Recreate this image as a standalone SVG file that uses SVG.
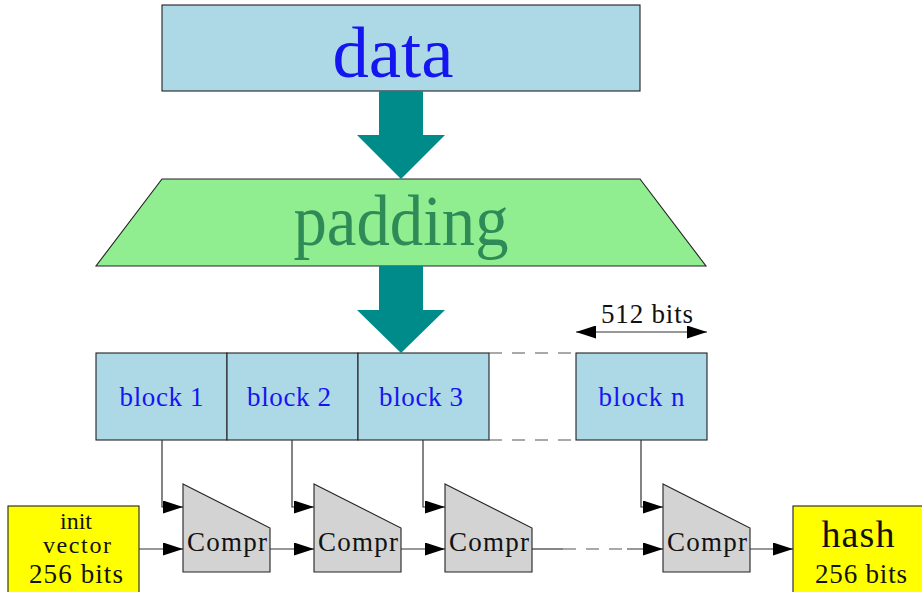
<svg xmlns="http://www.w3.org/2000/svg" width="922" height="592" viewBox="0 0 922 592">
  <style>
    text { font-family: "Liberation Serif", "DejaVu Serif", serif; text-anchor: middle; }
    .box { stroke: #222; stroke-width: 1.1; }
    .blue { fill: #add8e6; }
    .yellow { fill: #ffff00; }
    .compr { fill: #d3d3d3; stroke: #222; stroke-width: 1.1; }
    .big { font-size: 72px; }
    .lbl { fill: #1515f0; font-size: 27px; }
    .txt { fill: #111; font-size: 27px; }
    .sm { fill: #111; font-size: 24px; }
    .wire { fill: none; stroke: #333; stroke-width: 1.2; }
    .dash { fill: none; stroke: #555; stroke-width: 1.2; stroke-dasharray: 13 10; }
    .fat { fill: #008b8b; }
  </style>
  <defs>
    <marker id="tip" viewBox="0 0 20 13" refX="20" refY="6.5" markerWidth="20" markerHeight="13" markerUnits="userSpaceOnUse" orient="auto-start-reverse">
      <path d="M0,0 L20,6.5 L0,13 z" fill="#000"/>
    </marker>
  </defs>

  <!-- input message -->
  <g id="data">
    <rect class="box blue" x="162" y="5" width="478" height="86"/>
    <text class="big" x="393" y="77" fill="#1515f0" textLength="121" lengthAdjust="spacingAndGlyphs">data</text>
  </g>

  <g id="padding">
    <polygon class="box" points="162,179 640,179 706,266 96,266" fill="#90ee90"/>
    <text class="big" x="401" y="245" fill="#2e8b57" font-size="68px" textLength="215" lengthAdjust="spacingAndGlyphs">padding</text>
  </g>

  <!-- message blocks -->
  <g id="block1">
    <rect class="box blue" x="96" y="353" width="131" height="87"/>
    <text class="lbl" x="161.5" y="406" textLength="84">block 1</text>
  </g>
  <g id="block2">
    <rect class="box blue" x="227" y="353" width="131" height="87"/>
    <text class="lbl" x="289" y="406" textLength="84">block 2</text>
  </g>
  <g id="block3">
    <rect class="box blue" x="358" y="353" width="131" height="87"/>
    <text class="lbl" x="421" y="406" textLength="84">block 3</text>
  </g>
  <g id="blockn">
    <rect class="box blue" x="576" y="353" width="131" height="87"/>
    <text class="lbl" x="641.5" y="406" textLength="86">block n</text>
  </g>

  <!-- compression functions -->
  <g id="compr1">
    <polygon class="compr" points="183,484 270,528 270,572 183,572"/>
    <text class="txt" x="227" y="551" textLength="80">Compr</text>
  </g>
  <g id="compr2">
    <polygon class="compr" points="314,484 401,528 401,572 314,572"/>
    <text class="txt" x="358" y="551" textLength="80">Compr</text>
  </g>
  <g id="compr3">
    <polygon class="compr" points="445,484 532,528 532,572 445,572"/>
    <text class="txt" x="489" y="551" textLength="80">Compr</text>
  </g>
  <g id="comprn">
    <polygon class="compr" points="663,484 750,528 750,572 663,572"/>
    <text class="txt" x="707" y="551" textLength="80">Compr</text>
  </g>

  <g id="iv">
    <rect class="box yellow" x="8" y="506" width="131" height="90"/>
    <text class="sm" x="76" y="529">init</text>
    <text class="sm" x="77" y="553" textLength="68">vector</text>
    <text class="txt" x="76" y="583" textLength="94">256 bits</text>
  </g>

  <g id="hash">
    <rect class="box yellow" x="793" y="506" width="135" height="90"/>
    <text x="858" y="547" font-size="38px" fill="#111" textLength="73">hash</text>
    <text class="txt" x="861" y="583" textLength="92">256 bits</text>
  </g>

  <g id="size">
    <text class="txt" x="647" y="323" textLength="92">512 bits</text>
  </g>

  <g id="connectors">
    <!-- thick flow arrows -->
    <polygon class="fat" points="379,91 423,91 423,135 445,135 401,179 357,135 379,135"/>
    <polygon class="fat" points="379,266 423,266 423,310 445,310 401,353 357,310 379,310"/>

    <!-- gap between block 3 and block n -->
    <line class="dash" x1="489" y1="353" x2="576" y2="353"/>
    <line class="dash" x1="489" y1="440" x2="576" y2="440"/>

    <!-- block width -->
    <line class="wire" x1="576" y1="332" x2="707" y2="332" marker-start="url(#tip)" marker-end="url(#tip)"/>

    <!-- blocks into compression functions -->
    <path class="wire" d="M162,440 V507 H183" marker-end="url(#tip)"/>
    <path class="wire" d="M292,440 V507 H314" marker-end="url(#tip)"/>
    <path class="wire" d="M423,440 V507 H445" marker-end="url(#tip)"/>
    <path class="wire" d="M641,440 V507 H663" marker-end="url(#tip)"/>

    <!-- chaining value -->
    <line class="wire" x1="139" y1="549" x2="183" y2="549" marker-end="url(#tip)"/>
    <line class="wire" x1="270" y1="549" x2="314" y2="549" marker-end="url(#tip)"/>
    <line class="wire" x1="401" y1="549" x2="445" y2="549" marker-end="url(#tip)"/>
    <line class="wire" x1="532" y1="549" x2="563" y2="549"/>
    <line class="dash" x1="563" y1="549" x2="632" y2="549"/>
    <line class="wire" x1="627" y1="549" x2="663" y2="549" marker-end="url(#tip)"/>
    <line class="wire" x1="750" y1="549" x2="793" y2="549" marker-end="url(#tip)"/>
  </g>
</svg>
